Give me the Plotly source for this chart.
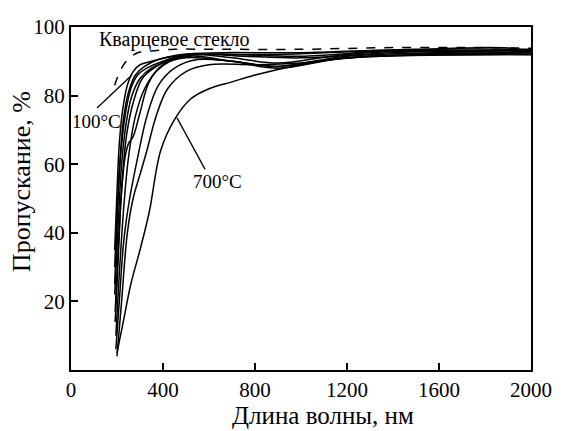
import plotly.graph_objects as go

# Quartz glass reference (dashed)
quartz_x = [190, 200, 220, 240, 265, 290, 350, 450, 600, 1000, 1400, 1800, 2000]
quartz_y = [83, 85, 88, 90, 91.5, 92.5, 93, 93.5, 93.5, 93.5, 94, 94, 93.8]

# Films (solid)
c1_x = [190, 200, 210, 225, 245, 270, 300, 350, 450, 600, 900, 1300, 2000]
c1_y = [35, 52, 66, 76, 83, 87, 89, 90, 91.5, 92, 92, 93, 93]
c2_x = [190, 200, 215, 235, 260, 290, 330, 400, 500, 700, 1000, 1400, 1840, 2000]
c2_y = [30, 45, 62, 74, 82, 86, 88, 90, 92, 92, 91.5, 93, 92.2, 93.5]
c3_x = [190, 205, 220, 240, 265, 300, 350, 420, 520, 700, 900, 1200, 1920, 2000]
c3_y = [22, 42, 60, 72, 80, 85, 88, 90, 92, 91, 89.5, 92, 93.8, 92.5]
c4_x = [192, 205, 220, 235, 250, 270, 300, 340, 400, 500, 700, 900, 1200, 2000]
c4_y = [17, 35, 52, 62, 66, 68, 75, 84, 89, 91, 90, 88.5, 91.5, 92.5]
c5_x = [195, 210, 230, 250, 280, 320, 370, 430, 520, 700, 900, 1200, 2000]
c5_y = [10, 28, 48, 62, 74, 82, 87, 90, 91.5, 90, 88, 91, 92]
c6_x = [195, 210, 230, 255, 290, 330, 380, 450, 550, 700, 900, 1200, 2000]
c6_y = [6, 20, 38, 50, 62, 74, 83, 88, 90.5, 90, 88.5, 91, 92]
c7_x = [200, 220, 245, 270, 300, 330, 370, 420, 500, 600, 800, 1000, 1300, 2000]
c7_y = [4, 20, 40, 50, 57, 64, 74, 82, 87, 89, 89, 89.5, 91.5, 92.5]
c8_x = [200, 230, 260, 300, 340, 390, 450, 520, 600, 700, 800, 1000, 1200, 1600, 2000]
c8_y = [5, 15, 25, 35, 46, 64, 73, 79, 82, 84, 86, 89, 91, 92, 92]
c9_x = [190, 200, 212, 228, 250, 280, 320, 380, 480, 650, 1000, 1500, 2000]
c9_y = [25, 42, 60, 73, 81, 86, 88.5, 90.5, 92, 92.5, 92.5, 93.5, 93.5]
c10_x = [192, 205, 222, 245, 275, 310, 360, 430, 550, 750, 1000, 1400, 2000]
c10_y = [14, 32, 55, 70, 79, 85, 88, 90.5, 92, 91.5, 91, 92.5, 93]

films = [(c1_x, c1_y), (c2_x, c2_y), (c3_x, c3_y), (c4_x, c4_y), (c5_x, c5_y),
         (c6_x, c6_y), (c7_x, c7_y), (c8_x, c8_y), (c9_x, c9_y), (c10_x, c10_y)]

x_ticks = [0, 400, 800, 1200, 1600, 2000]
y_ticks = [20, 40, 60, 80, 100]

fig = go.Figure()
fig.add_trace(go.Scatter(x=quartz_x, y=quartz_y, mode="lines",
                         line=dict(color="black", width=1.5, dash="dash", shape="spline"),
                         showlegend=False))
for fx, fy in films:
    fig.add_trace(go.Scatter(x=fx, y=fy, mode="lines",
                             line=dict(color="black", width=1.5, shape="spline"),
                             showlegend=False))

font = "Liberation Serif, Times New Roman, serif"
fig.add_annotation(x=452, y=96.3, text="Кварцевое стекло", showarrow=False,
                   font=dict(family=font, size=20, color="black"))
fig.add_annotation(x=113, y=72.5, text="100°C", showarrow=False,
                   font=dict(family=font, size=19, color="black"))
fig.add_annotation(x=639, y=55, text="700°C", showarrow=False,
                   font=dict(family=font, size=19, color="black"))
fig.add_shape(type="line", x0=113, y0=76.4, x1=265, y1=86,
              line=dict(color="black", width=1.3))
fig.add_shape(type="line", x0=461, y0=73.5, x1=583, y1=58.5,
              line=dict(color="black", width=1.3))

# axis titles as annotations for exact placement
fig.add_annotation(xref="paper", yref="paper", x=0.548, y=-0.133, yanchor="middle",
                   text="Длина волны, нм", showarrow=False,
                   font=dict(family=font, size=25, color="black"))
fig.add_annotation(xref="paper", yref="paper", x=-0.107, y=0.55, xanchor="center",
                   textangle=-90, text="Пропускание, %", showarrow=False,
                   font=dict(family=font, size=26, color="black"))

axis_common = dict(showline=True, linecolor="black", linewidth=2, mirror=True,
                   ticks="inside", ticklen=7, tickwidth=2, tickcolor="black",
                   showgrid=False, zeroline=False,
                   tickfont=dict(family=font, size=21, color="black"))
fig.update_xaxes(range=[0, 2000], tickvals=x_ticks, **axis_common)
fig.update_yaxes(range=[0, 100], tickvals=y_ticks, **axis_common)
fig.update_layout(width=563, height=431, margin=dict(l=71, r=32, t=27, b=61),
                  plot_bgcolor="white", paper_bgcolor="white")
fig.write_html("out.html")
